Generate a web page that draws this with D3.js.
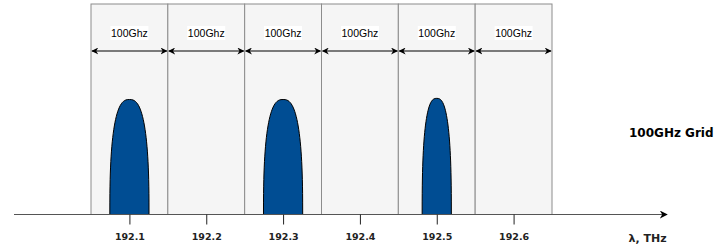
<!DOCTYPE html>
<html>
<head>
<meta charset="utf-8">
<script src="https://cdn.jsdelivr.net/npm/d3@7"></script>
<style>
  body { margin: 0; background: #fff; }
  svg { display: block; }
</style>
</head>
<body>
<div id="chart"></div>
<script>
// grid channels (THz) and the ones that carry a signal
const channels = [192.1, 192.2, 192.3, 192.4, 192.5, 192.6]
const spacingLabel = ['100Ghz', '100Ghz', '100Ghz', '100Ghz', '100Ghz', '100Ghz']
const signalFreq = [192.1, 192.3, 192.5]
const signalWidth = [0.051, 0.051, 0.038]   // THz, base width of each pulse
const signalPower = [1.0, 1.0, 1.01]

const W = 726, H = 247
const axisY = 214.5

const svg = d3.select('#chart').append('svg')
  .attr('width', W)
  .attr('height', H)

const x = d3.scaleLinear().domain([192.05, 192.65]).range([91, 552])
const y = d3.scaleLinear().domain([0, 1]).range([axisY, 99.5])
const step = 0.1

// grid cells
svg.append('g').selectAll('rect')
  .data(channels)
  .join('rect')
    .attr('x', d => x(d - step / 2))
    .attr('y', 4)
    .attr('width', d => x(d + step / 2) - x(d - step / 2))
    .attr('height', axisY - 4)
    .attr('fill', '#f5f5f5')
    .attr('stroke', '#8c8c8c')
    .attr('stroke-width', 1)

// arrow markers
const defs = svg.append('defs')
defs.append('marker')
  .attr('id', 'arr')
  .attr('viewBox', '0 0 10 10')
  .attr('refX', 9).attr('refY', 5)
  .attr('markerWidth', 7).attr('markerHeight', 7)
  .attr('markerUnits', 'userSpaceOnUse')
  .attr('orient', 'auto-start-reverse')
  .append('path')
    .attr('d', 'M0,0 L10,5 L0,10 L3,5 Z')
    .attr('fill', '#000')
defs.append('marker')
  .attr('id', 'axarr')
  .attr('viewBox', '0 0 10 10')
  .attr('refX', 9).attr('refY', 5)
  .attr('markerWidth', 8).attr('markerHeight', 8)
  .attr('markerUnits', 'userSpaceOnUse')
  .attr('orient', 'auto')
  .append('path')
    .attr('d', 'M0,0 L10,5 L0,10 L3,5 Z')
    .attr('fill', '#000')

// spacing arrows
svg.append('g').selectAll('line')
  .data(channels)
  .join('line')
    .attr('x1', d => x(d - step / 2) + 1)
    .attr('x2', d => x(d + step / 2) - 1)
    .attr('y1', 51).attr('y2', 51)
    .attr('stroke', '#000')
    .attr('stroke-width', 1.2)
    .attr('marker-start', 'url(#arr)')
    .attr('marker-end', 'url(#arr)')

const lab = svg.append('g').selectAll('g')
  .data(channels)
  .join('g')
    .attr('transform', d => `translate(${x(d)},33)`)
lab.append('rect')
  .attr('x', -19).attr('y', -7)
  .attr('width', 38).attr('height', 14)
  .attr('fill', '#fff')
lab.append('text')
  .attr('text-anchor', 'middle')
  .attr('dy', '0.35em')
  .attr('font-family', 'Liberation Sans, Arial, sans-serif')
  .attr('font-size', 10.5)
  .attr('fill', '#000')
  .text((d, i) => spacingLabel[i])

// signal pulses: superellipse outline (fuller than a plain ellipse)
const n = 2.65
const pulseLine = d3.line()
function pulsePath(cx, rx, ry) {
  const pts = d3.range(0, 181, 3).map(deg => {
    const t = deg * Math.PI / 180
    const c = Math.cos(t), s = Math.sin(t)
    const px = Math.sign(c) * Math.pow(Math.abs(c), 2 / n)
    const py = Math.pow(Math.abs(s), 2 / n)
    return [cx - px * rx, axisY - py * ry]
  })
  return pulseLine(pts) + 'Z'
}
svg.append('g').selectAll('path')
  .data(signalFreq)
  .join('path')
    .attr('d', (d, i) => {
      const rx = (x(d + signalWidth[i] / 2) - x(d - signalWidth[i] / 2)) / 2
      return pulsePath(x(d), rx, axisY - y(signalPower[i]))
    })
    .attr('fill', '#004d93')
    .attr('stroke', '#000')
    .attr('stroke-width', 1)

// frequency axis
svg.append('line')
  .attr('x1', 14).attr('x2', 667)
  .attr('y1', axisY).attr('y2', axisY)
  .attr('stroke', '#555')
  .attr('stroke-width', 1)
  .attr('marker-end', 'url(#axarr)')

const axis = d3.axisBottom(x)
  .tickValues(channels)
  .tickFormat(d3.format('.1f'))
  .tickSize(10)
  .tickPadding(9)
const ax = svg.append('g')
  .attr('transform', `translate(0,${axisY})`)
  .call(axis)
ax.select('.domain').remove()
ax.selectAll('line').attr('stroke', '#222')
ax.selectAll('text')
  .attr('font-family', 'DejaVu Sans, Verdana, sans-serif')
  .attr('font-weight', 'bold')
  .attr('font-size', 9.5)
  .attr('fill', '#222')

svg.append('text')
  .attr('x', 647.5).attr('y', 242)
  .attr('text-anchor', 'middle')
  .attr('font-family', 'DejaVu Sans, Verdana, sans-serif')
  .attr('font-weight', 'bold')
  .attr('font-size', 11)
  .attr('fill', '#222')
  .text('λ, THz')

svg.append('text')
  .attr('x', 629).attr('y', 137)
  .attr('font-family', 'DejaVu Sans, Verdana, sans-serif')
  .attr('font-weight', 'bold')
  .attr('font-size', 12)
  .attr('fill', '#000')
  .text('100GHz Grid')
</script>
</body>
</html>
